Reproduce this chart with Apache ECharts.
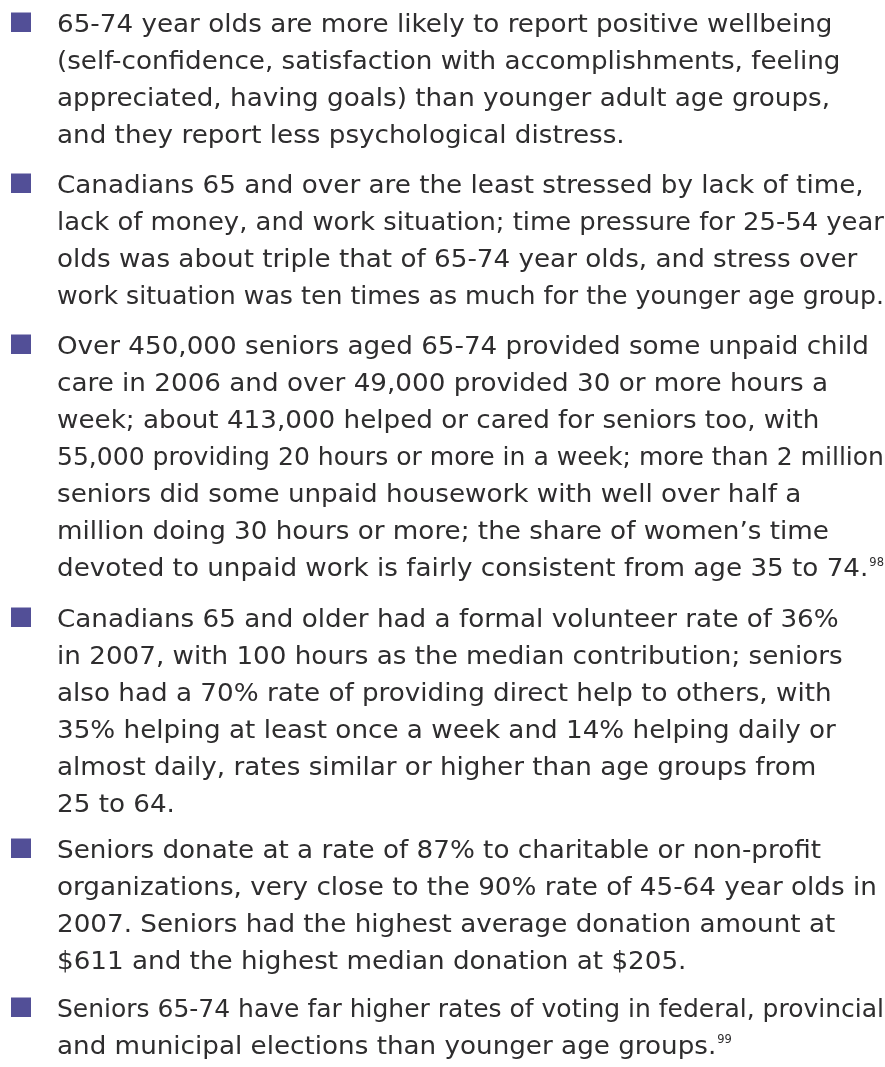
<html>
<head>
    <meta charset="utf-8">
    <title>Seniors wellbeing</title>
    <script src="https://cdn.jsdelivr.net/npm/echarts@6/dist/echarts.min.js"></script>
    <style>
        html, body { margin: 0; padding: 0; background: #fff; }
    </style>
</head>
<body>
    <div id="main" style="width: 885px;height:1067px"></div>
    <script>
        // text of each bullet, one entry per printed line
        var bulletWellbeing = [
            '65-74 year olds are more likely to report positive wellbeing',
            '(self-confidence, satisfaction with accomplishments, feeling',
            'appreciated, having goals) than younger adult age groups,',
            'and they report less psychological distress.'
        ];
        var bulletStress = [
            'Canadians 65 and over are the least stressed by lack of time,',
            'lack of money, and work situation; time pressure for 25-54 year',
            'olds was about triple that of 65-74 year olds, and stress over',
            'work situation was ten times as much for the younger age group.'
        ];
        var bulletCare = [
            'Over 450,000 seniors aged 65-74 provided some unpaid child',
            'care in 2006 and over 49,000 provided 30 or more hours a',
            'week; about 413,000 helped or cared for seniors too, with',
            '55,000 providing 20 hours or more in a week; more than 2 million',
            'seniors did some unpaid housework with well over half a',
            'million doing 30 hours or more; the share of women\u2019s time',
            'devoted to unpaid work is fairly consistent from age 35 to 74.'
        ];
        var bulletVolunteer = [
            'Canadians 65 and older had a formal volunteer rate of 36%',
            'in 2007, with 100 hours as the median contribution; seniors',
            'also had a 70% rate of providing direct help to others, with',
            '35% helping at least once a week and 14% helping daily or',
            'almost daily, rates similar or higher than age groups from',
            '25 to 64.'
        ];
        var bulletDonate = [
            'Seniors donate at a rate of 87% to charitable or non-profit',
            'organizations, very close to the 90% rate of 45-64 year olds in',
            '2007. Seniors had the highest average donation amount at',
            '$611 and the highest median donation at $205.'
        ];
        var bulletVoting = [
            'Seniors 65-74 have far higher rates of voting in federal, provincial',
            'and municipal elections than younger age groups.'
        ];
        var bullets = [bulletWellbeing, bulletStress, bulletCare, bulletVolunteer, bulletDonate, bulletVoting];
        // footnote number placed after the last line of a bullet
        var footnotes = ['', '', '98', '', '', '99'];

        var font = '"DejaVu Sans", "Open Sans", sans-serif';
        var fontSize = 24.6;
        var textColor = '#2e2d2e';
        var squareColor = '#524f97';

        // squeeze the substitute font to the width of the original face,
        // using a few lines whose printed width was read off the page
        var cv = document.createElement('canvas').getContext('2d');
        cv.font = fontSize + 'px ' + font;
        var calib = [
            [bulletWellbeing[0], 780], [bulletWellbeing[1], 806], [bulletWellbeing[2], 801],
            [bulletStress[0], 815], [bulletStress[1], 803], [bulletStress[2], 800],
            [bulletStress[3], 823], [bulletCare[0], 820]
        ];
        var sumT = 0, sumM = 0;
        calib.forEach(function (c) {
            sumT += c[1];
            sumM += cv.measureText(c[0]).width;
        });
        var sx = sumT / sumM;
        var maxW = 827;

        // layout: baseline of the first line of each bullet, line pitch
        var textLeft = 57;
        var paraBase = [32, 193, 354, 627, 858, 1017];
        var lineH = 37.1;
        var baseShift = 8.5;

        var elements = [];
        for (var b = 0; b < bullets.length; b++) {
            var base = paraBase[b];
            elements.push({
                type: 'rect',
                shape: { x: 11, y: base - 19.5, width: 20, height: 19.5 },
                style: { fill: squareColor }
            });
            var lines = bullets[b];
            for (var i = 0; i < lines.length; i++) {
                var w = cv.measureText(lines[i]).width;
                var s = Math.min(sx, maxW / w);
                elements.push({
                    type: 'text',
                    x: textLeft,
                    y: base + baseShift,
                    scaleX: s,
                    style: {
                        text: lines[i],
                        x: 0,
                        y: 0,
                        align: 'left',
                        verticalAlign: 'bottom',
                        fontFamily: font,
                        fontSize: fontSize,
                        lineHeight: 30,
                        fill: textColor
                    }
                });
                if (i == lines.length - 1 && footnotes[b]) {
                    elements.push({
                        type: 'text',
                        x: textLeft + w * s + 1,
                        y: base - 20,
                        style: {
                            text: footnotes[b],
                            x: 0,
                            y: 0,
                            align: 'left',
                            verticalAlign: 'top',
                            fontFamily: font,
                            fontSize: 11.5,
                            fill: textColor
                        }
                    });
                }
                base += lineH;
            }
        }

        var myChart = echarts.init(document.getElementById('main'), null, { renderer: 'canvas' });
        myChart.setOption({
            backgroundColor: '#ffffff',
            animation: false,
            graphic: { elements: elements }
        });
    </script>
</body>
</html>
